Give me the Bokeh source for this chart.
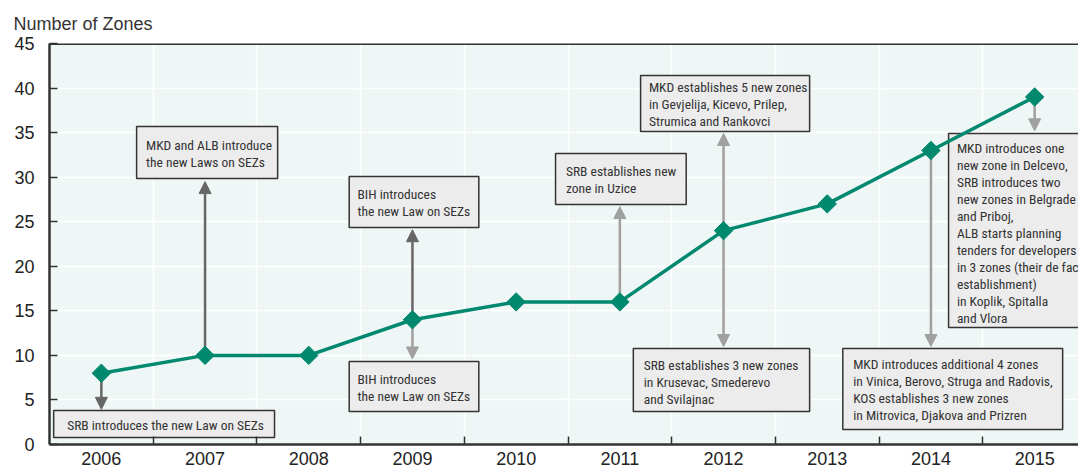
from bokeh.plotting import figure
from bokeh.models import (ColumnDataSource, FixedTicker, Arrow, NormalHead, Span,
                          Range1d)
from bokeh.core.properties import value
from bokeh.embed import file_html
from bokeh.resources import INLINE
import math

# ---------------- data ----------------
years = [2006, 2007, 2008, 2009, 2010, 2011, 2012, 2013, 2014, 2015]
zones = [8, 10, 10, 14, 16, 16, 24, 27, 33, 39]
y_ticks = [0, 5, 10, 15, 20, 25, 30, 35, 40, 45]
y_axis_title = "Number of Zones"

notes = [
    "SRB introduces the new Law on SEZs",
    "MKD and ALB introduce\nthe new Laws on SEZs",
    "BIH introduces\nthe new Law on SEZs",
    "BIH introduces\nthe new Law on SEZs",
    "SRB establishes new\nzone in Uzice",
    "SRB establishes  3 new zones\nin  Krusevac, Smederevo\nand Svilajnac",
    "MKD establishes 5 new zones\nin Gevjelija, Kicevo, Prilep,\nStrumica and Rankovci",
    "MKD introduces one\nnew zone in Delcevo,\nSRB introduces two\nnew zones in Belgrade\nand Priboj,\nALB starts planning\ntenders for developers\nin 3 zones (their de facto\nestablishment)\nin Koplik, Spitalla\nand Vlora",
    "MKD introduces additional  4 zones\nin Vinica, Berovo, Struga  and Radovis,\nKOS establishes 3 new zones\nin Mitrovica, Djakova and Prizren",
]

# ---------------- styling / layout ----------------
TEAL = "#00896e"
DARK = "#666666"
LIGHT = "#a0a0a0"
BOX_FILL = "#ececec"
BOX_LINE = "#333333"
NARROW = "Roboto Condensed, DejaVu Sans Condensed, Liberation Sans"
REG = "Liberation Sans"

W, H = 1078, 473
LEFT, TOP, BOTTOM = 49, 43, 29
px_per_year = 103.7
x0 = 2005.5
x1 = x0 + (W - LEFT) / px_per_year

p = figure(width=W, height=H, output_backend="svg", toolbar_location=None,
           x_range=Range1d(x0, x1), y_range=Range1d(0, 45),
           min_border_left=LEFT, min_border_right=0, min_border_top=TOP,
           min_border_bottom=BOTTOM)
p.background_fill_color = "#eff6f6"
p.border_fill_color = "white"
p.outline_line_color = None

p.title.text = y_axis_title
p.title.text_font = REG
p.title.text_font_size = "18px"
p.title.text_font_style = "normal"
p.title.text_color = "#333333"
p.title.align = "left"
p.title.offset = -36
p.title.standoff = 19

# axes
xa = p.xaxis[0]
xa.ticker = FixedTicker(ticks=years, minor_ticks=[y + 0.5 for y in years])
xa.major_tick_in = 0
xa.major_tick_out = 0
xa.minor_tick_in = 8
xa.minor_tick_out = 0
xa.minor_tick_line_color = "#333333"
xa.minor_tick_line_width = 1.5
xa.axis_line_color = "#333333"
xa.axis_line_width = 2.5
xa.major_label_text_font = REG
xa.major_label_text_font_size = "18px"
xa.major_label_text_color = "#222222"
xa.major_label_standoff = 7

ya = p.yaxis[0]
ya.ticker = FixedTicker(ticks=y_ticks)
ya.major_tick_in = 8
ya.major_tick_out = 0
ya.minor_tick_line_color = None
ya.major_tick_line_color = "#333333"
ya.major_tick_line_width = 1.5
ya.axis_line_color = "#333333"
ya.axis_line_width = 2.5
ya.major_label_text_font = REG
ya.major_label_text_font_size = "18px"
ya.major_label_text_color = "#222222"
ya.major_label_standoff = 15

p.xgrid.grid_line_color = None
p.xgrid.minor_grid_line_color = "white"
p.xgrid.minor_grid_line_width = 1.5
p.ygrid.grid_line_color = "white"
p.ygrid.grid_line_width = 1.5

p.add_layout(Span(location=45, dimension="width", line_color="#333333", line_width=3))

# annotation boxes (left, right, top, bottom in data units) and text anchors
box_l = [2005.54, 2006.34, 2008.39, 2008.39, 2010.38, 2011.13, 2011.20, 2014.17, 2013.15]
box_r = [2007.67, 2007.70, 2009.64, 2009.64, 2011.64, 2012.83, 2012.83, 2016.50, 2015.27]
box_t = [3.82, 35.69, 30.08, 9.31, 32.66, 10.77, 41.41, 34.90, 10.77]
box_b = [0.79, 29.85, 24.35, 3.70, 26.93, 3.70, 35.12, 13.13, 1.68]
text_x = [2005.67, 2006.43, 2008.47, 2008.47, 2010.48, 2011.23, 2011.28, 2014.25, 2013.25]
text_y = [3.10, 34.50, 29.00, 8.25, 31.60, 9.82, 41.0, 34.17, 9.93]

# arrows: (x, from y, to y, colour)
arrows = [
    (2006, 8, 3.95, DARK),
    (2007, 10, 29.5, DARK),
    (2009, 14, 24.1, DARK),
    (2009, 14, 9.6, LIGHT),
    (2011, 16, 26.7, LIGHT),
    (2012, 24, 34.9, LIGHT),
    (2012, 24, 11.0, LIGHT),
    (2014, 33, 11.0, LIGHT),
    (2015, 39, 35.2, LIGHT),
]
for (x, ys, ye, c) in arrows:
    p.add_layout(Arrow(x_start=x, y_start=ys, x_end=x, y_end=ye,
                       line_color=c, line_width=2.5, level="underlay",
                       end=NormalHead(size=12, fill_color=c, line_color=c)))

bsrc = ColumnDataSource(dict(left=box_l, right=box_r, top=box_t, bottom=box_b))
p.quad(left="left", right="right", top="top", bottom="bottom", source=bsrc,
       fill_color=BOX_FILL, line_color=BOX_LINE, line_width=1.5)

src = ColumnDataSource(dict(x=years, y=zones))
p.line("x", "y", source=src, line_color=TEAL, line_width=3.5)
p.scatter("x", "y", source=src, marker="square", angle=math.pi / 4, size=13,
          fill_color=TEAL, line_color=TEAL)

tsrc = ColumnDataSource(dict(x=text_x, y=text_y, text=notes))
p.text("x", "y", text="text", source=tsrc, text_font=value(NARROW),
       text_font_size="13.5px", text_color="#333333", text_baseline="top",
       text_align="left", text_line_height=1.06)

open("out.html", "w").write(file_html(p, INLINE))
